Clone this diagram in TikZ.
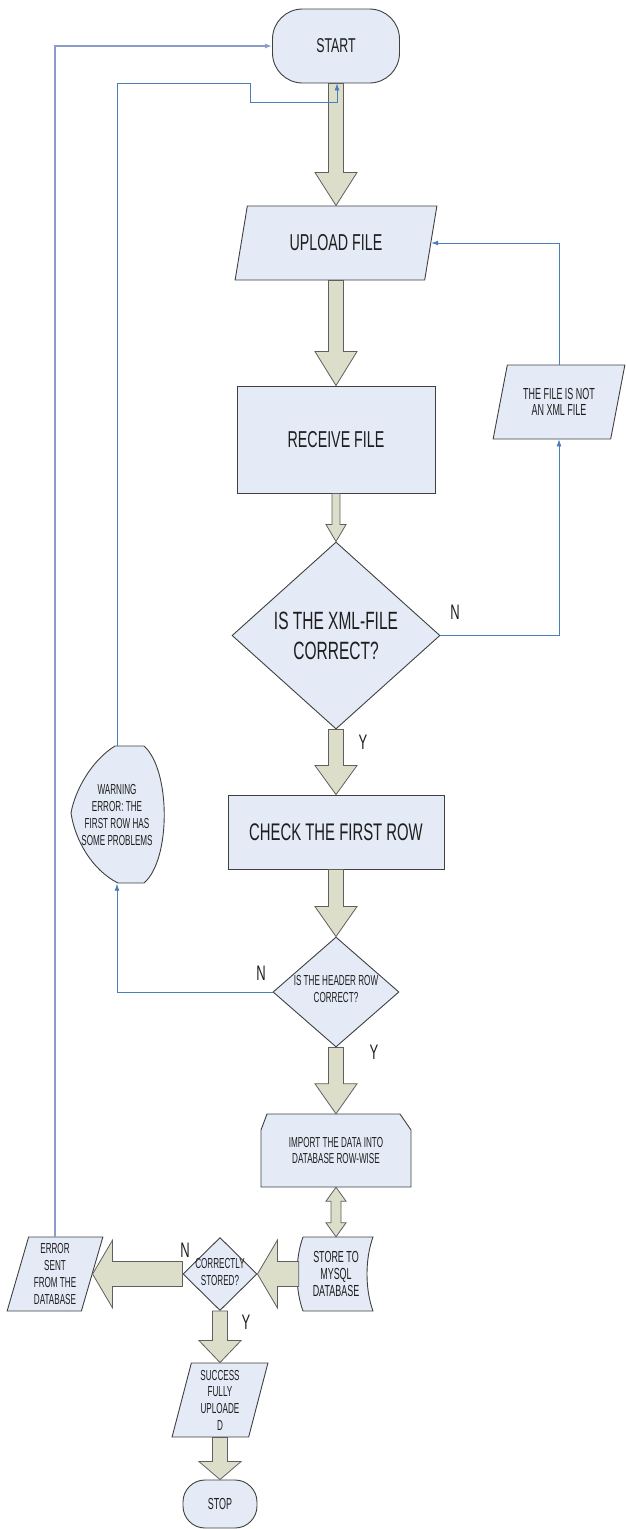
\documentclass[tikz,border=0pt]{standalone}
\usepackage{fontspec}
\setmainfont{Liberation Sans}[FakeStretch=0.62]
\newfontfamily\narrowfont{Liberation Sans}[FakeStretch=0.56]
\usetikzlibrary{shapes.geometric, arrows.meta, calc, backgrounds}

\definecolor{boxfill}{RGB}{228,234,246}
\definecolor{boxline}{RGB}{64,64,64}
\definecolor{arrfill}{RGB}{220,222,202}
\definecolor{arrline}{RGB}{95,95,95}
\definecolor{loopblue}{RGB}{74,126,187}
\definecolor{loopgrey}{RGB}{140,156,200}
\definecolor{txt}{RGB}{30,30,30}

% big block arrow from #1 to #2: half shaft, half head, head length
\newcommand{\fatarrow}[5]{%
  \draw[fatarr] let \p1=(#1), \p2=(#2),
      \n1={atan2(\y2-\y1,\x2-\x1)}, \n2={veclen(\x2-\x1,\y2-\y1)} in
    ([alongarr]0pt,#3pt) -- ([alongarr]\n2-#5pt,#3pt) -- ([alongarr]\n2-#5pt,#4pt)
    -- ([alongarr]\n2,0pt) -- ([alongarr]\n2-#5pt,-#4pt) -- ([alongarr]\n2-#5pt,-#3pt)
    -- ([alongarr]0pt,-#3pt) -- cycle;}

\tikzset{
  box/.style={draw=boxline, fill=boxfill, line width=0.9pt, text=txt, align=center},
  term/.style={box, rectangle, rounded corners=30pt},
  proc/.style={box, rectangle},
  dec/.style={box, diamond},
  io/.style 2 args={box, trapezium, trapezium left angle=#1, trapezium right angle=#2,
    trapezium stretches=true},
  txtonly/.style={text=txt, align=center},
  big/.style={font=\fontsize{23}{28}\selectfont},
  small/.style={font=\narrowfont\fontsize{14.5}{16.7}\selectfont},
  mid/.style={font=\narrowfont\fontsize{16}{16.7}\selectfont},
  lbl/.style={text=txt, font=\fontsize{21}{24}\selectfont},
  fatarr/.style={draw=arrline, fill=arrfill, line width=0.8pt, line join=miter},
  alongarr/.style={shift={(\p1)}, rotate=\n1},
  blueline/.style={draw=loopblue, line width=0.8pt, -{Latex[length=7pt, width=5pt]}},
  greyline/.style={draw=loopgrey, line width=1.6pt, -{Latex[length=7pt, width=5pt]}}
}

\begin{document}
\begin{tikzpicture}[x=1pt, y=1pt]
    \useasboundingbox (0,0) rectangle (625,-1529);

    % main column
    \node[term, minimum width=127pt, minimum height=74pt, font=\fontsize{20}{24}\selectfont] (start) at (336,-46) {START};
    \node[io={73.4}{106.6}, minimum width=202pt, minimum height=74pt, big] (upload) at (336,-243) {UPLOAD FILE};
    \node[proc, minimum width=198pt, minimum height=107pt, big] (recv) at (336,-439.5) {RECEIVE FILE};
    \node[dec, minimum width=208pt, minimum height=187pt, font=\fontsize{25}{30}\selectfont] (xml) at (336,-635.5) {IS THE XML-FILE\\CORRECT?};
    \node[io={72.7}{107.3}, minimum width=132pt, minimum height=74pt, mid] (notxml) at (559,-402) {THE FILE IS NOT\\AN XML FILE};
    \node[proc, minimum width=216pt, minimum height=74pt, font=\fontsize{24}{28}\selectfont] (check) at (336,-832) {CHECK THE FIRST ROW};
    \node[dec, minimum width=126pt, minimum height=110pt] (hdr) at (336,-992) {};
    \node[txtonly, small] (hdrtext) at (336,-989) {IS THE HEADER ROW\\CORRECT?};
    \node[txtonly, small, minimum width=94pt, minimum height=137pt] (warn) at (117,-815) {WARNING\\ERROR: THE\\FIRST ROW HAS\\SOME PROBLEMS};
    \node[txtonly, small, minimum width=150pt, minimum height=73pt] (imp) at (336,-1150.5) {IMPORT THE DATA INTO\\DATABASE ROW-WISE};
    \node[txtonly, mid, minimum width=74pt, minimum height=74pt] (store) at (336,-1274) {STORE TO\\MYSQL\\DATABASE};
    \node[dec, minimum width=74pt, minimum height=73pt] (stored) at (220,-1274) {};
    \node[txtonly, small] (storedtext) at (220,-1272) {CORRECTLY\\STORED?};
    \node[io={73.4}{106.6}, minimum width=96pt, minimum height=74pt, small] (err) at (55,-1274) {ERROR\\SENT\\FROM THE\\DATABASE};
    \node[io={77}{103}, minimum width=96pt, minimum height=74pt, small] (succ) at (220,-1400) {SUCCESS\\FULLY\\UPLOADE\\D};
    \node[term, rounded corners=22pt, minimum width=74pt, minimum height=48pt, mid] (stop) at (220,-1504) {STOP};

    % outlines of the odd shapes
    \begin{scope}[on background layer]
        \begin{scope}[shift={(warn.center)}]
            \draw[box] (-2,69) -- (27,69) .. controls (54,45) and (54,-45) .. (27,-68) -- (1,-68)
                .. controls (-25,-55) and (-42,-25) .. (-46,2) .. controls (-42,25) and (-25,55) .. (-2,69) -- cycle;
        \end{scope}
        \begin{scope}[shift={(imp.center)}]
            \draw[box] (-69,36.5) -- (64,36.5) -- (75,20.5) -- (75,-36.5) -- (-75,-36.5) -- (-75,20.5) -- cycle;
        \end{scope}
        \begin{scope}[shift={(store.center)}]
            \draw[box] (-33,37) -- (37,37) .. controls (29,15) and (29,-15) .. (37,-37) -- (-33,-37)
                .. controls (-41,-15) and (-41,15) .. (-33,37) -- cycle;
        \end{scope}
    \end{scope}

    % block arrows
    \fatarrow{start.south}{upload.north -| upload}{7.5}{21}{33}
    \fatarrow{upload.south -| upload}{recv.north}{7.5}{21}{34}
    \fatarrow{recv.south}{xml.north}{4}{10}{17}
    \fatarrow{xml.south}{check.north}{7.5}{21}{29}
    \fatarrow{check.south}{hdr.north}{7.5}{21}{30}
    \fatarrow{hdr.south}{imp.north}{7.5}{21}{30}
    \draw[fatarr] let \p1=(imp.south), \p2=(store.north) in
        (\x1-5pt,\y1-14pt) -- (\x1-10pt,\y1-14pt) -- (\x1,\y1) -- (\x1+10pt,\y1-14pt) -- (\x1+5pt,\y1-14pt)
        -- (\x1+5pt,\y2+14pt) -- (\x1+10pt,\y2+14pt) -- (\x1,\y2) -- (\x1-10pt,\y2+14pt) -- (\x1-5pt,\y2+14pt) -- cycle;
    \fatarrow{store.west}{stored.east}{12.5}{34}{20}
    \fatarrow{stored.west}{err.east}{12.5}{34}{20}
    \fatarrow{stored.south}{succ.north -| succ}{7.5}{21}{22}
    \fatarrow{succ.south -| succ}{stop.north}{7.5}{21}{18}

    % loops back
    \coordinate (bend1) at (250,-83);
    \coordinate (bend2) at (337,-102);
    \draw[greyline] (err.north -| err.center) |- (start.west);
    \draw[blueline] (warn.north) |- (bend1) |- (bend2) -- (start.south -| bend2);
    \draw[blueline] (hdr.west) -| (warn.south);
    \draw[blueline] (xml.east) -| (notxml.south -| notxml.center);
    \draw[blueline] (notxml.north -| notxml.center) |- (upload.east);

    % answers
    \node[lbl] (nxml) at (455,-612) {N};
    \node[lbl] (yxml) at (363,-742) {Y};
    \node[lbl] (nhdr) at (261,-973) {N};
    \node[lbl] (yhdr) at (374,-1052) {Y};
    \node[lbl] (nstored) at (185,-1250) {N};
    \node[lbl] (ystored) at (246,-1322) {Y};
\end{tikzpicture}
\end{document}
